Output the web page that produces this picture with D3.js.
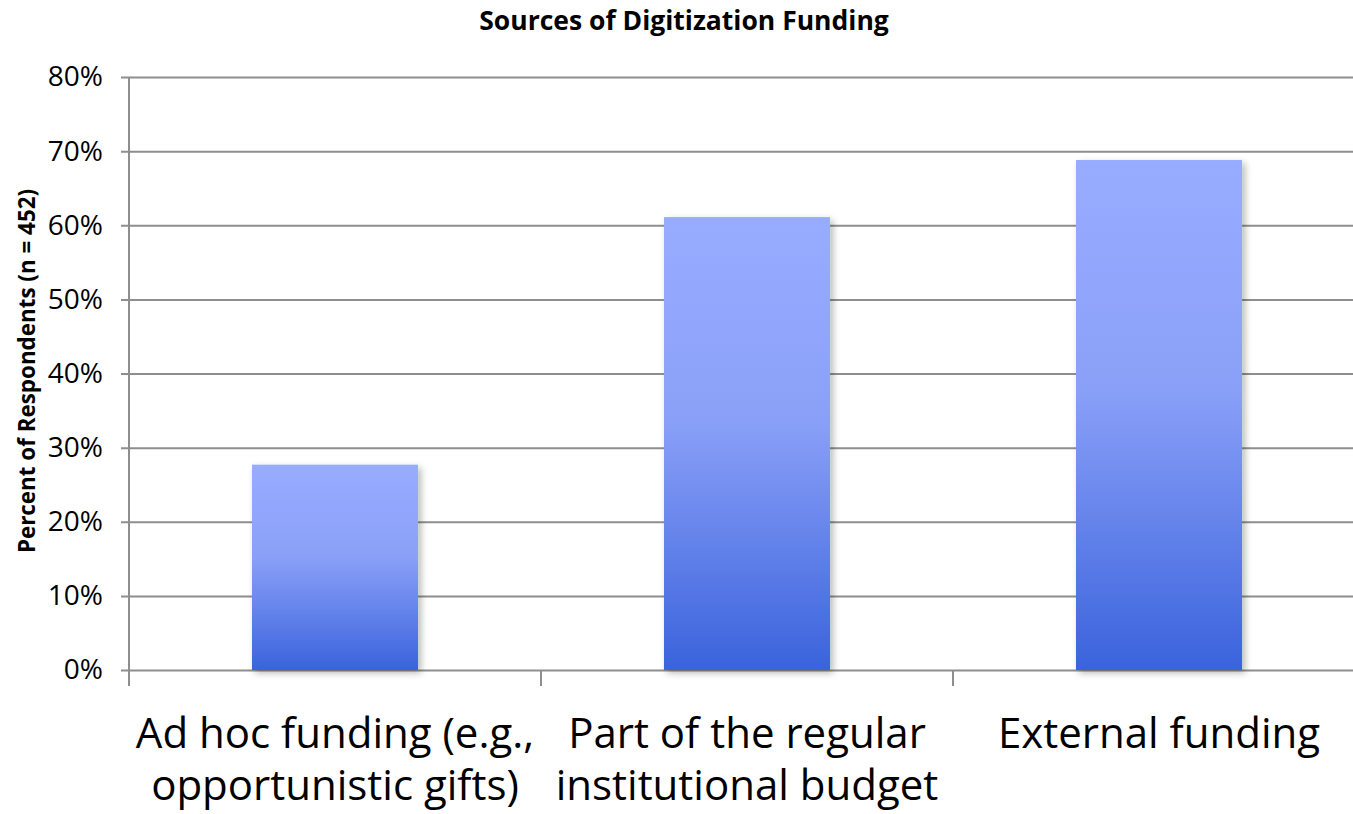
<!DOCTYPE html>
<html>
<head>
<meta charset="utf-8">
<script src="https://cdn.jsdelivr.net/npm/d3@7"></script>
<style>
  html, body { margin: 0; padding: 0; background: #ffffff; }
  svg { display: block; font-family: "Open Sans", Lato, sans-serif; }
</style>
</head>
<body>
<svg id="chart" width="1353" height="814"></svg>
<script>
// Funding sources and share of respondents (n = 452)
const categories = [
  "Ad hoc funding (e.g., opportunistic gifts)",
  "Part of the regular institutional budget",
  "External funding"
];
const categoryLines = [
  ["Ad hoc funding (e.g.,", "opportunistic gifts)"],
  ["Part of the regular", "institutional budget"],
  ["External funding"]
];
const percentValues = [0.277, 0.611, 0.688];
const yTicks = [0, 0.1, 0.2, 0.3, 0.4, 0.5, 0.6, 0.7, 0.8];
const chartTitle = "Sources of Digitization Funding";
const yAxisTitle = "Percent of Respondents (n = 452)";

const svg = d3.select("#chart");
const plot = { left: 129, right: 1365, top: 77, bottom: 670 };

const x = d3.scaleBand()
  .domain(categories)
  .range([plot.left, plot.right])
  .paddingInner(0.597)
  .paddingOuter(0.2985);

const y = d3.scaleLinear()
  .domain([0, 0.8])
  .range([plot.bottom, plot.top]);

const defs = svg.append("defs");
const grad = defs.append("linearGradient")
  .attr("id", "barFill")
  .attr("x1", 0).attr("y1", 0).attr("x2", 0).attr("y2", 1);
grad.append("stop").attr("offset", "0%").attr("stop-color", "#98acff");
grad.append("stop").attr("offset", "45%").attr("stop-color", "#8aa0f8");
grad.append("stop").attr("offset", "100%").attr("stop-color", "#3b63dc");

const shadow = defs.append("filter")
  .attr("id", "barShadow")
  .attr("x", "-20%").attr("y", "-10%").attr("width", "150%").attr("height", "130%");
shadow.append("feDropShadow")
  .attr("dx", 3).attr("dy", 3).attr("stdDeviation", 3.5)
  .attr("flood-color", "#000").attr("flood-opacity", 0.28);

// Horizontal gridlines with left tick marks
const yAxis = d3.axisLeft(y)
  .tickValues(yTicks)
  .tickFormat(d3.format(".0%"))
  .tickSize(-(plot.right - plot.left))
  .tickPadding(26);

const gy = svg.append("g")
  .attr("transform", `translate(${plot.left},0)`)
  .call(yAxis);
gy.select(".domain").remove();
gy.selectAll(".tick line")
  .attr("x1", -8)
  .attr("stroke", "#8e8e8e")
  .attr("stroke-width", 2);
gy.selectAll(".tick text")
  .attr("fill", "#000")
  .attr("font-size", 28)
  .attr("font-family", "'Open Sans', sans-serif");

// Vertical axis line
svg.append("line")
  .attr("x1", plot.left).attr("x2", plot.left)
  .attr("y1", plot.top).attr("y2", plot.bottom + 16)
  .attr("stroke", "#8e8e8e").attr("stroke-width", 2);

// Category separator ticks along the baseline
const boundaries = categories.map(c => x(c) - x.step() * x.paddingInner() / 2).slice(1);
svg.append("g").selectAll("line")
  .data(boundaries)
  .join("line")
  .attr("x1", d => d).attr("x2", d => d)
  .attr("y1", plot.bottom).attr("y2", plot.bottom + 16)
  .attr("stroke", "#8e8e8e").attr("stroke-width", 2);

// Bars
svg.append("g").selectAll("rect")
  .data(categories)
  .join("rect")
  .attr("x", d => x(d))
  .attr("width", x.bandwidth())
  .attr("y", (d, i) => y(percentValues[i]))
  .attr("height", (d, i) => y(0) - y(percentValues[i]))
  .attr("fill", "url(#barFill)")
  .attr("filter", "url(#barShadow)");

// Category labels
const labels = svg.append("g").selectAll("text")
  .data(categories)
  .join("text")
  .attr("text-anchor", "middle")
  .attr("font-size", 42)
  .attr("fill", "#000")
  .attr("transform", d => `translate(${x(d) + x.bandwidth() / 2},748)`);
labels.selectAll("tspan")
  .data((d, i) => categoryLines[i])
  .join("tspan")
  .attr("x", 0)
  .attr("y", (d, j) => j * 52)
  .text(d => d);

// Chart title
svg.append("text")
  .attr("x", 684).attr("y", 30)
  .attr("text-anchor", "middle")
  .attr("font-size", 26.5)
  .attr("font-weight", "bold")
  .attr("fill", "#000")
  .text(chartTitle);

// Y axis title
svg.append("text")
  .attr("transform", "translate(35,371) rotate(-90)")
  .attr("text-anchor", "middle")
  .attr("font-size", 22.4)
  .attr("font-weight", "bold")
  .attr("fill", "#000")
  .text(yAxisTitle);
</script>
</body>
</html>
